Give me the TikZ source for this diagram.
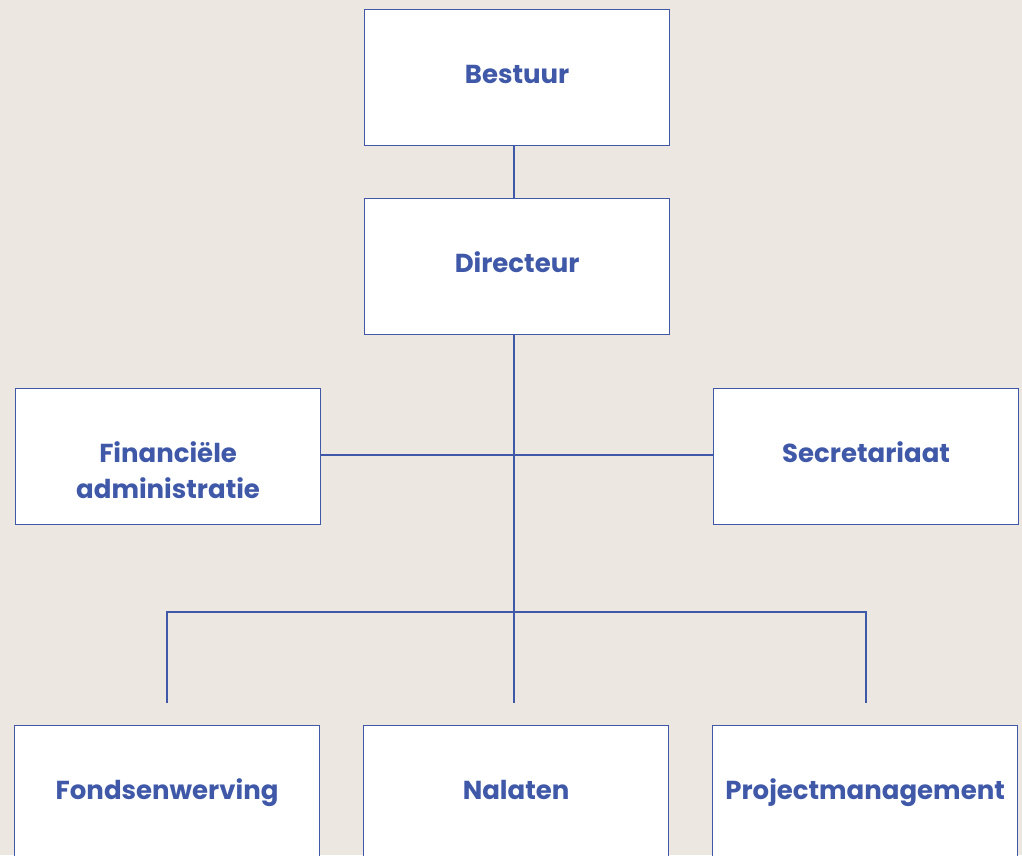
\documentclass[tikz,border=0pt]{standalone}
\usepackage{fontspec}
\setmainfont{Poppins}[BoldFont={* Bold}]
\definecolor{bg}{HTML}{ECE7E1}
\definecolor{ink}{HTML}{3F58A8}
\begin{document}
\begin{tikzpicture}[x=1pt,y=-1pt,
  box/.style={draw=ink,line width=1.2pt,fill=white,minimum width=305pt,minimum height=136pt,inner sep=0pt,
    font=\fontsize{26}{36}\selectfont\bfseries,text=ink,align=center,anchor=north west,
    text height=17pt,text depth=6pt},
  twoline/.style={text height=89pt,text depth=6pt},
  conn/.style={draw=ink,line width=1.2pt}]
\fill[bg] (0,0) rectangle (1022,855);
\useasboundingbox (0,0) rectangle (1022,855);
\begin{scope}
\clip (0,0) rectangle (1022,855);
\node[box] (bestuur) at (364,9) {Bestuur};
\node[box] (directeur) at (364,198) {Directeur};
\node[box,twoline] (fin) at (15,388) {Financiële\\administratie};
\node[box] (sec) at (713,388) {Secretariaat};
\node[box] (fonds) at (14,725) {Fondsenwerving};
\node[box] (nal) at (363,725) {Nalaten};
\node[box] (proj) at (712,725) {Projectmanagement};
\end{scope}
\coordinate (tb) at (514,145);
\coordinate (td) at (514,198);
\coordinate (dd) at (514,334);
\coordinate (hub) at (514,455);
\coordinate (split) at (514,612);
\coordinate (sl) at (167,612);
\coordinate (sr) at (866,612);
\coordinate (el) at (167,703);
\coordinate (em) at (514,703);
\coordinate (er) at (866,703);
\draw[conn] (tb) -- (td);
\draw[conn] (dd) -- (hub) -- (split) -- (em);
\draw[conn] (fin.east |- hub) -- (hub) -- (sec.west |- hub);
\draw[conn] (el) -- (sl) -- (sr) -- (er);
\end{tikzpicture}
\end{document}
